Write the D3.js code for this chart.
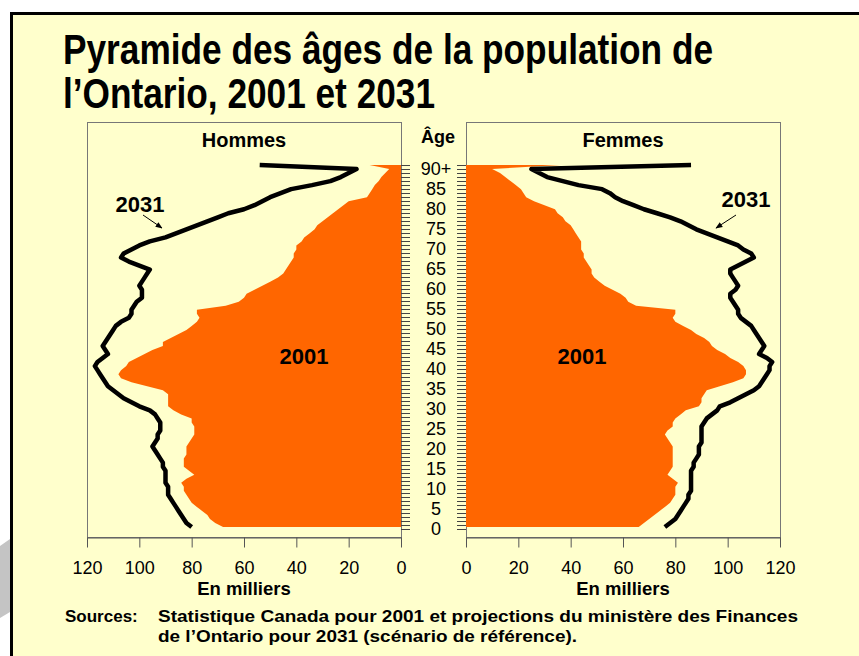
<!DOCTYPE html>
<html lang="fr">
<head>
<meta charset="UTF-8" />
<title>Pyramide des âges - Ontario</title>
<script src="https://d3js.org/d3.v7.min.js"></script>
<style>
  body { margin: 0; background: #fff; }
  svg { display: block; font-family: "Liberation Sans", Arial, sans-serif; }
</style>
</head>
<body>
<svg id="chart" width="859" height="656"></svg>
<script>
// ages 0 .. 90 (last one is 90+)
const ages = d3.range(0, 91);
const ageLabels = ["0","5","10","15","20","25","30","35","40","45","50","55","60","65","70","75","80","85","90+"];
const xTicks = [0, 20, 40, 60, 80, 100, 120];

// en milliers
const hommes2001 = [68,71,73,74,76,78,80,81,82,83, 83,84,82,79,81,83,83,83,82,82,
  82,81,80,79,79,79,80,80,84,87, 89,89,89,89,91,97,103,107,108,107,
  105,104,101,98,95,91,91,88,85,82, 80,78,77,78,78,67,62,60,59,56,
  53,50,47,45,44,43,42,41,41,40, 40,38,37,35,33,32,30,28,26,24,
  22,20,13,12,11,10,8.5,7.5,6,4.5, 12];
const hommes2031 = [80,82,83,84,85,86,87,88,89,89, 89,90,90,90,90,91,91,92,93,94,
  95,94,93,93,92,92,92,93,94,96, 100,103,106,108,110,112,113,114,115,116,
  117,116,114,112,113,114,113,112,111,110, 109,107,104,103,103,102,101,99,99,99,
  100,99,98,97,96,100,104,107,106,103, 100,96,90,86,82,78,74,70,66,60,
  56,53,50,46,42,34,27,23,20,17, 54];
const femmes2001 = [66,68,70,72,74,76,78,79,80,80, 80,81,79,77,78,79,79,79,79,79,
  79,78,77,76,77,79,79,80,82,84, 89,90,90,91,92,97,102,106,107,107,
  106,104,101,99,96,94,93,91,88,86, 83,80,79,80,80,65,62,61,59,56,
  53,51,49,48,48,47,46,45,45,44, 44,44,43,42,41,40,38,37,35,34,
  30,26,23,22,21,19,17,15,13,10, 36];
const femmes2031 = [76,78,80,81,82,83,84,85,85,86, 86,86,86,86,86,87,87,88,89,89,
  89,90,90,90,90,90,91,92,94,96, 97,101,104,107,110,112,113,114,115,116,
  116,117,115,112,113,114,113,112,111,110, 109,107,105,104,104,103,102,101,101,103,
  104,103,102,101,101,104,107,110,109,106, 104,100,96,92,88,85,82,78,73,68,
  64,60,57,55,52,43,37,31,28,25, 86];

const yellow = "#FFFFCC", orange = "#FF6600";
const svg = d3.select("#chart");

// slide background and frame
svg.append("path")
  .attr("d", "M0,546 L10,539 L10,612 L0,618 Z")
  .attr("fill", "#c4c4c4");
svg.append("rect")
  .attr("x", 11.5).attr("y", 13.5).attr("width", 848).attr("height", 643)
  .attr("fill", yellow);
svg.append("path")
  .attr("d", "M11.5,656 V13.5 H859")
  .attr("fill", "none").attr("stroke", "#000").attr("stroke-width", 3);

// title
const title = [
  { t: "Pyramide des âges de la population de", y: 64, w: 650 },
  { t: "l\u2019Ontario, 2001 et 2031", y: 108, w: 372 }
];
title.forEach(l => {
  svg.append("text")
    .attr("x", 63).attr("y", l.y)
    .attr("font-size", "43px").attr("font-weight", "bold")
    .attr("textLength", l.w).attr("lengthAdjust", "spacingAndGlyphs")
    .text(l.t);
});

// scales
const boxTop = 122, boxBottom = 537;
const y = d3.scaleLinear().domain([0, 90]).range([527, 165]);
const yTick = d3.scaleLinear().domain([0, 91]).range([529, 165]);
const xL = d3.scaleLinear().domain([120, 0]).range([87, 401]);
const xR = d3.scaleLinear().domain([0, 120]).range([466, 780]);

const marker = svg.append("defs").append("marker")
  .attr("id", "arrow").attr("viewBox", "0 0 10 10")
  .attr("refX", 9).attr("refY", 5)
  .attr("markerWidth", 7).attr("markerHeight", 7)
  .attr("orient", "auto");
marker.append("path").attr("d", "M0,1 L10,5 L0,9 Z").attr("fill", "#000");

function drawPanel(x, v2001, v2031, name, side) {
  const [r0, r1] = x.range();
  const left = Math.min(r0, r1), right = Math.max(r0, r1);
  const g = svg.append("g");

  g.append("rect")
    .attr("x", left + 0.5).attr("y", boxTop + 0.5)
    .attr("width", right - left).attr("height", boxBottom - boxTop)
    .attr("fill", yellow).attr("stroke", "#777").attr("stroke-width", 1);

  const area = d3.area()
    .y((d, i) => y(ages[i]))
    .x0(x(0))
    .x1(d => x(d));
  g.append("path")
    .datum(v2001)
    .attr("fill", orange)
    .attr("d", area);

  const line = d3.line()
    .y((d, i) => y(ages[i]))
    .x(d => x(d));
  g.append("path")
    .datum(v2031)
    .attr("fill", "none")
    .attr("stroke", "#000")
    .attr("stroke-width", 4.5)
    .attr("stroke-linejoin", "round")
    .attr("d", line);

  // bottom axis
  const axis = g.append("g")
    .attr("transform", `translate(0,${boxBottom + 0.5})`)
    .call(d3.axisBottom(x).tickValues(xTicks).tickSize(10).tickSizeOuter(0).tickPadding(14));
  axis.select(".domain").attr("stroke", "#555");
  axis.selectAll(".tick line").attr("stroke", "#555");
  axis.selectAll("text")
    .attr("font-size", "18px")
    .attr("font-family", "Liberation Sans, Arial, sans-serif")
    .attr("fill", "#000");

  g.append("text")
    .attr("x", (left + right) / 2).attr("y", 595)
    .attr("text-anchor", "middle")
    .attr("font-size", "18.5px").attr("font-weight", "bold")
    .text("En milliers");

  g.append("text")
    .attr("x", (left + right) / 2).attr("y", 147)
    .attr("text-anchor", "middle")
    .attr("font-size", "20px").attr("font-weight", "bold")
    .text(name);

  // yearly age ticks along the inner edge
  const edge = side === "left" ? right : left;
  const dir = side === "left" ? 1 : -1;
  g.selectAll(".ageTick")
    .data(d3.range(0, 92))
    .enter().append("line")
      .attr("x1", edge).attr("x2", edge + dir * 9)
      .attr("y1", d => Math.round(yTick(d)) + 0.5)
      .attr("y2", d => Math.round(yTick(d)) + 0.5)
      .attr("stroke", "#444").attr("stroke-width", 1);
}

drawPanel(xL, hommes2001, hommes2031, "Hommes", "left");
drawPanel(xR, femmes2001, femmes2031, "Femmes", "right");

// age labels in the middle
svg.append("text")
  .attr("x", 438).attr("y", 143)
  .attr("text-anchor", "middle")
  .attr("font-size", "18px").attr("font-weight", "bold")
  .text("Âge");

svg.selectAll(".ageLabel")
  .data(ageLabels)
  .enter().append("text")
    .attr("x", 436)
    .attr("y", (d, i) => yTick(i * 5 + 0.5) + 2)
    .attr("dy", "0.36em")
    .attr("text-anchor", "middle")
    .attr("font-size", "18px")
    .text(d => d);

// series labels
[[304, 364, "2001"], [582, 364, "2001"], [140, 212, "2031"], [746, 207, "2031"]].forEach(([lx, ly, t]) => {
  svg.append("text")
    .attr("x", lx).attr("y", ly)
    .attr("text-anchor", "middle")
    .attr("font-size", "22px").attr("font-weight", "bold")
    .text(t);
});

// little arrows pointing at the 2031 lines
[[143, 215, 162, 228], [736, 215, 716, 228]].forEach(([x1, y1, x2, y2]) => {
  svg.append("line")
    .attr("x1", x1).attr("y1", y1).attr("x2", x2).attr("y2", y2)
    .attr("stroke", "#000").attr("stroke-width", 1)
    .attr("marker-end", "url(#arrow)");
});

// sources
svg.append("text")
  .attr("x", 65).attr("y", 622)
  .attr("font-size", "17px").attr("font-weight", "bold")
  .text("Sources:");
svg.append("text")
  .attr("x", 158).attr("y", 622)
  .attr("font-size", "17px").attr("font-weight", "bold")
  .attr("textLength", 640).attr("lengthAdjust", "spacingAndGlyphs")
  .text("Statistique Canada pour 2001 et projections du ministère des Finances");
svg.append("text")
  .attr("x", 158).attr("y", 642)
  .attr("font-size", "17px").attr("font-weight", "bold")
  .attr("textLength", 419).attr("lengthAdjust", "spacingAndGlyphs")
  .text("de l\u2019Ontario pour 2031 (scénario de référence).");
</script>
</body>
</html>
